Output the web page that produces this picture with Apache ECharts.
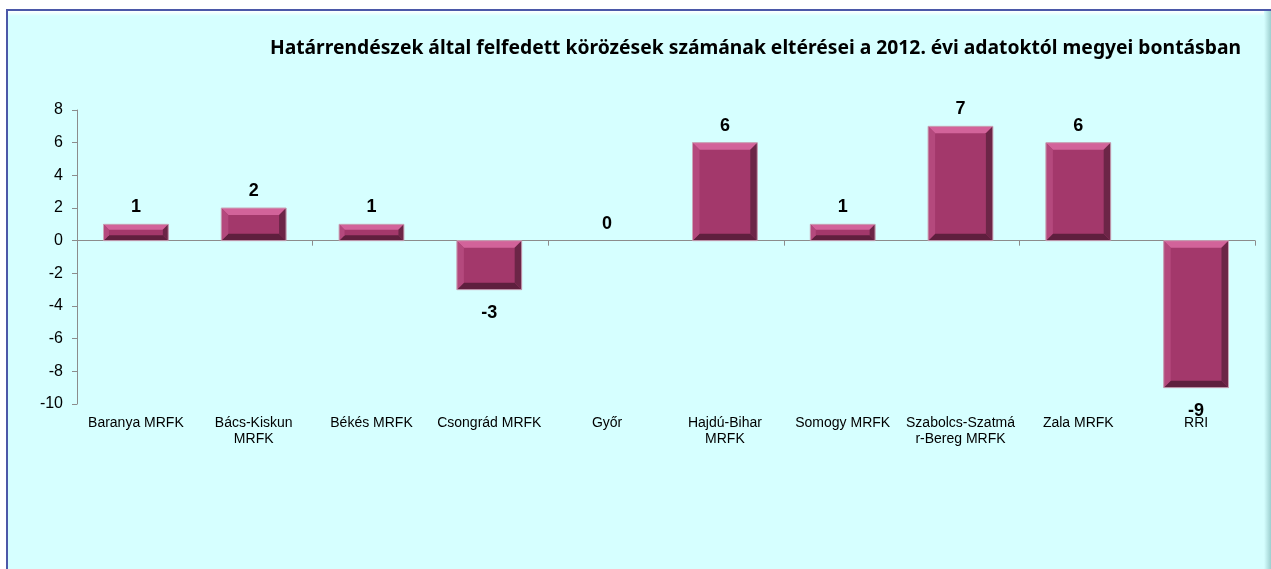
<!DOCTYPE html>
<html>
<head>
<meta charset="utf-8">
<script src="https://cdn.jsdelivr.net/npm/echarts@6/dist/echarts.min.js"></script>
<style>
    html, body { margin: 0; padding: 0; background: #ffffff; }
    #main { width: 1271px; height: 569px; }
</style>
</head>
<body>
<div id="main"></div>
<script>
    // adatok
    var categories = ['Baranya MRFK', 'Bács-Kiskun\nMRFK', 'Békés MRFK', 'Csongrád MRFK', 'Győr',
        'Hajdú-Bihar\nMRFK', 'Somogy MRFK', 'Szabolcs-Szatmá\nr-Bereg MRFK', 'Zala MRFK', 'RRI'];
    var values = [1, 2, 1, -3, 0, 6, 1, 7, 6, -9];
    var yTicks = { min: -10, max: 8, interval: 2 };
    var titleText = 'Határrendészek által felfedett körözések számának eltérései a 2012. évi adatoktól megyei bontásban';

    var barRatio = 0.55;

    // hasáb "dombornyomott" széle
    function renderBevel(params, api) {
        var v = api.value(1);
        if (!v) return;
        var c = api.coord([api.value(0), 0]);
        var e = api.coord([api.value(0), v]);
        var w = api.size([1, 0])[0] * barRatio;
        var x0 = c[0] - w / 2, x1 = c[0] + w / 2;
        var yt = Math.min(c[1], e[1]), yb = Math.max(c[1], e[1]);
        var b = Math.min(7, (yb - yt) / 3);
        var shape = function(pts, fill) {
            return { type: 'polygon', shape: { points: pts }, style: { fill: fill }, silent: true };
        };
        return {
            type: 'group',
            children: [
                shape([[x0, yt], [x1, yt], [x1 - b, yt + b], [x0 + b, yt + b]], '#d2639a'),
                shape([[x0, yb], [x1, yb], [x1 - b, yb - b], [x0 + b, yb - b]], '#5f1f3e'),
                shape([[x0, yt], [x0 + b, yt + b], [x0 + b, yb - b], [x0, yb]], '#b4497d'),
                shape([[x1, yt], [x1 - b, yt + b], [x1 - b, yb - b], [x1, yb]], '#6c2547'),
                { type: 'rect', shape: { x: x0, y: yt, width: w, height: yb - yt },
                  style: { fill: 'none', stroke: '#c9a6b8', lineWidth: 1 }, silent: true }
            ]
        };
    }

    var chart = echarts.init(document.getElementById('main'));

    var barData = values.map(function(v) {
        return {
            value: v,
            label: v < 0 ? { position: 'bottom', distance: 14 } : { position: 'top', distance: 8 }
        };
    });

    chart.setOption({
        animation: false,
        textStyle: { fontFamily: 'Liberation Sans, Arial, sans-serif' },
        graphic: [
            { type: 'rect', z: -10, shape: { x: 7, y: 10, width: 1270, height: 570 },
              style: { fill: '#d6ffff', stroke: '#4b58a8', lineWidth: 2 } },
            { type: 'rect', z: -9, shape: { x: 1264, y: 11, width: 7, height: 560 },
              style: { fill: new echarts.graphic.LinearGradient(0, 0, 1, 0, [
                  { offset: 0, color: '#d6ffff' }, { offset: 1, color: '#9ccfcf' }]) } },
            { type: 'rect', z: -9, shape: { x: 8, y: 11, width: 1256, height: 5 },
              style: { fill: new echarts.graphic.LinearGradient(0, 0, 0, 1, [
                  { offset: 0, color: '#ffffff' }, { offset: 1, color: '#d6ffff' }]) } }
        ],
        title: {
            text: titleText,
            right: 25,
            top: 34,
            textStyle: { fontFamily: 'Noto Sans', fontWeight: 'bold', fontSize: 19.3, color: '#000' }
        },
        grid: { left: 77, right: 16, top: 110, bottom: 165 },
        xAxis: [{
            type: 'category',
            data: categories,
            axisLine: { onZero: true, lineStyle: { color: '#8c8c8c' } },
            axisTick: { show: true, length: 5, lineStyle: { color: '#8c8c8c' } },
            axisLabel: { show: false }
        }, {
            type: 'category',
            data: categories,
            position: 'bottom',
            axisLine: { show: false },
            axisTick: { show: false },
            axisLabel: { interval: 0, margin: 11, fontSize: 14, lineHeight: 16, color: '#000' }
        }],
        yAxis: {
            type: 'value',
            min: yTicks.min,
            max: yTicks.max,
            interval: yTicks.interval,
            axisLine: { show: true, lineStyle: { color: '#8c8c8c' } },
            axisTick: { show: true, length: 5, lineStyle: { color: '#8c8c8c' } },
            axisLabel: { fontSize: 16, color: '#000', margin: 14 },
            splitLine: { show: false }
        },
        series: [{
            type: 'bar',
            data: barData,
            barWidth: (barRatio * 100) + '%',
            itemStyle: { color: '#a3386b' },
            label: {
                show: true,
                fontSize: 18,
                fontWeight: 'bold',
                color: '#000'
            }
        }, {
            type: 'custom',
            renderItem: renderBevel,
            data: values.map(function(v, i) { return [i, v]; }),
            z: 3
        }]
    });
</script>
</body>
</html>
